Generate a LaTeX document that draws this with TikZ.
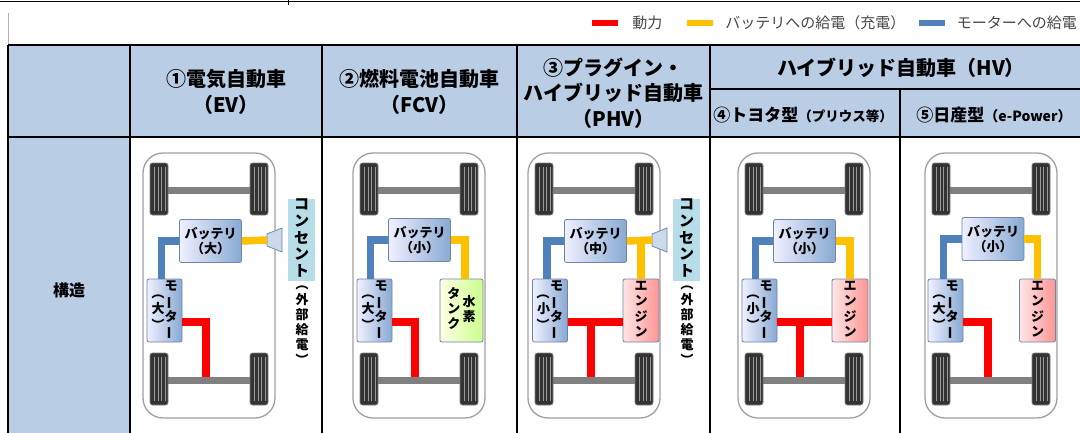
\documentclass[tikz,border=0pt]{standalone}
\usepackage{fontspec}
\setmainfont{Noto Sans CJK JP}
\usepackage{graphicx}
\usetikzlibrary{positioning, calc}
\definecolor{hdrblue}{RGB}{185,205,229}
\definecolor{pwrred}{RGB}{255,0,0}
\definecolor{chgyellow}{RGB}{255,192,0}
\definecolor{motblue}{RGB}{79,129,189}
\definecolor{axlegray}{RGB}{128,128,128}
\definecolor{bodygray}{RGB}{160,160,160}
\definecolor{boxedge}{RGB}{112,132,168}
\definecolor{outletteal}{RGB}{183,222,232}
\definecolor{legendgray}{RGB}{70,70,70}
% vertical (tategaki) stacks
\newcommand{\tate}[1]{\begin{tabular}{@{}c@{}}#1\end{tabular}}
\newcommand{\vchoon}{\rotatebox[origin=c]{90}{ー}}
\newcommand{\vlp}{\rotatebox[origin=c]{-90}{（}}
\newcommand{\vrp}{\rotatebox[origin=c]{-90}{）}}
\tikzset{
    gridline/.style={line width=1.6pt, black},
    hdr/.style={align=center, inner sep=0pt, font=\bfseries\fontsize{20}{25.5}\selectfont},
    subhdr/.style={inner sep=0pt, font=\bfseries\fontsize{17}{20}\selectfont},
    legbar/.style={rectangle, minimum width=26pt, minimum height=6pt, inner sep=0pt},
    legtxt/.style={inner sep=0pt, text=legendgray, font=\fontsize{15}{18}\selectfont},
    bluebox/.style={rectangle, rounded corners=2pt, draw=boxedge, line width=0.8pt, left color=blue!6, right color=motblue!68, inner sep=0pt, align=center, font=\bfseries\fontsize{13}{15}\selectfont},
    battbox/.style={bluebox, minimum width=62pt, minimum height=43pt},
    motorbox/.style={bluebox, minimum width=35pt, minimum height=63pt},
    enginebox/.style={bluebox, minimum width=36pt, minimum height=63pt, left color=red!10, right color=red!42},
    tankbox/.style={bluebox, minimum width=43pt, minimum height=63pt, left color=green!6!yellow!10, right color=green!45!yellow!45},
    outlet/.style={rectangle, fill=outletteal, minimum width=27pt, minimum height=80pt, inner sep=0pt, font=\bfseries\fontsize{15}{16}\selectfont},
    extnote/.style={inner sep=0pt, font=\bfseries\fontsize{13}{13.5}\selectfont},
    plugshape/.style={draw=boxedge, line width=0.8pt, fill=motblue!30},
    power/.style={line width=7.5pt, pwrred},
    charge/.style={line width=7.5pt, chgyellow},
    feed/.style={line width=7.5pt, motblue},
    axle/.style={line width=7pt, axlegray},
    chassis/.pic={
        \draw[bodygray, line width=1.3pt, rounded corners=20pt, fill=white] (0,153) rectangle (132,418);
        \foreach \ay in {190,380} \draw[axle] (24,\ay) -- (107,\ay);
        \foreach \wx in {7,107} \foreach \wy in {163,353} {
            \draw[rounded corners=2.5pt, fill=black!80, draw=black!50, line width=0.8pt] (\wx,\wy) rectangle ++(18,52);
            \foreach \t in {4.5,8,11.5,15} \draw[black!40, line width=1pt] (\wx+\t,\wy+4) -- ++(0,44);
        }
    },
}
\begin{document}
\begin{tikzpicture}[x=1pt, y=-1pt]
\useasboundingbox (0,0) rectangle (1080,432);
\clip (0,0) rectangle (1080,432);
\fill[white] (0,0) rectangle (1080,432);
\draw[black, line width=1.3pt] (0,1.5) -- (1080,1.5);
\draw[black, line width=1pt] (288,0) -- (288,5);
\draw[black!30, line width=0.6pt] (8,13) -- (8,45);

% legend
\node[legbar, fill=pwrred] (kPow) at (605,23) {};
\node[legtxt, right=14pt of kPow] (tPow) {動力};
\node[legbar, fill=chgyellow] (kChg) at (700,23) {};
\node[legtxt, right=12pt of kChg] (tChg) {バッテリへの給電（充電）};
\node[legbar, fill=motblue] (kMot) at (931.5,23) {};
\node[legtxt, right=12pt of kMot] (tMot) {モーターへの給電};

% table
\fill[hdrblue] (8,45) rectangle (1100,137);
\fill[hdrblue] (8,137) rectangle (130,440);
\draw[gridline] (8,45) -- (1100,45);
\draw[gridline] (8,137) -- (1100,137);
\draw[gridline] (710,89) -- (1100,89);
\foreach \cx in {8,130,322,517,710} \draw[gridline] (\cx,45) -- (\cx,440);
\draw[gridline] (900,89) -- (900,440);

\node[hdr] (hEV) at (226,92) {①電気自動車\\（EV）};
\node[hdr] (hFCV) at (419.5,92) {②燃料電池自動車\\（FCV）};
\node[hdr] (hPHV) at (613.5,93) {③プラグイン・\\ハイブリッド自動車\\（PHV）};
\node[hdr] (hHV) at (901,68) {ハイブリッド自動車（HV）};
\node[subhdr] (hTY) at (803,115) {④トヨタ型{\fontsize{13.5}{15}\selectfont（プリウス等）}};
\node[subhdr] (hNS) at (994,115) {⑤日産型{\fontsize{14}{15}\selectfont（e-Power）}};
\node[font=\bfseries\fontsize{16}{18}\selectfont] (rStruct) at (69,290) {構造};

% 1: EV
\begin{scope}[shift={(143,0)}]
    \pic {chassis};
    \coordinate (ax1) at (63,376.5);
    \coordinate (plg1) at (124,240);
    \node[battbox] (bat1) at (67.5,241) {バッテリ\\（大）};
    \node[motorbox] (mot1) at (21.5,310.5) {\tate{\vlp\\大\\\vrp}\tate{モ\\\vchoon\\タ\\\vchoon}};
    \node[outlet] (out1) at (158.5,240) {\tate{コ\\ン\\セ\\ン\\ト}};
    \node[extnote] (ext1) at (159,323) {\tate{\vlp\\外\\部\\給\\電\\\vrp}};
    \draw[plugshape] (124,234) -- (139,228) -- (139,252) -- (124,246) -- cycle;
    \draw[feed] (bat1.west) -| ([xshift=-3pt]mot1.north);
    \draw[charge] (bat1.east) -- (plg1);
    \draw[power] ([yshift=-11.5pt]mot1.east) -| (ax1);
\end{scope}

% 2: FCV
\begin{scope}[shift={(353,0)}]
    \pic {chassis};
    \coordinate (ax2) at (62,376.5);
    \node[battbox] (bat2) at (66.5,240) {バッテリ\\（小）};
    \node[motorbox] (mot2) at (21.5,310.5) {\tate{\vlp\\大\\\vrp}\tate{モ\\\vchoon\\タ\\\vchoon}};
    \node[tankbox] (tnk2) at (108.5,310.5) {\tate{タ\\ン\\ク}\,\tate{水\\素}};
    \draw[feed] (bat2.west) -| ([xshift=-4pt]mot2.north);
    \draw[charge] (bat2.east) -| ([xshift=3.5pt]tnk2.north);
    \draw[power] ([yshift=-11.5pt]mot2.east) -| (ax2);
\end{scope}

% 3: PHV
\begin{scope}[shift={(528,0)}]
    \pic {chassis};
    \coordinate (ax3) at (63,376.5);
    \coordinate (j3) at (63,322);
    \coordinate (plg3) at (124,240);
    \node[battbox] (bat3) at (67.5,241) {バッテリ\\（中）};
    \node[motorbox] (mot3) at (22,310.5) {\tate{\vlp\\小\\\vrp}\tate{モ\\\vchoon\\タ\\\vchoon}};
    \node[enginebox] (eng3) at (113,310.5) {\tate{エ\\ン\\ジ\\ン}};
    \node[outlet] (out3) at (158.5,240) {\tate{コ\\ン\\セ\\ン\\ト}};
    \node[extnote] (ext3) at (159,323) {\tate{\vlp\\外\\部\\給\\電\\\vrp}};
    \draw[plugshape] (124,234) -- (139,228) -- (139,252) -- (124,246) -- cycle;
    \draw[feed] (bat3.west) -| ([xshift=-3pt]mot3.north);
    \draw[charge] (bat3.east) -- (plg3);
    \draw[charge] (bat3.east -| eng3.north) -- (eng3.north);
    \draw[power] ([yshift=-11.5pt]mot3.east) -- ([yshift=-11.5pt]eng3.west);
    \draw[power] (j3) -- (ax3);
\end{scope}

% 4: HV (Toyota)
\begin{scope}[shift={(738,0)}]
    \pic {chassis};
    \coordinate (ax4) at (62,376.5);
    \coordinate (j4) at (62,322);
    \node[battbox] (bat4) at (66.5,241) {バッテリ\\（小）};
    \node[motorbox] (mot4) at (21.5,310.5) {\tate{\vlp\\小\\\vrp}\tate{モ\\\vchoon\\タ\\\vchoon}};
    \node[enginebox] (eng4) at (112,310.5) {\tate{エ\\ン\\ジ\\ン}};
    \draw[feed] (bat4.west) -| ([xshift=-4pt]mot4.north);
    \draw[charge] (bat4.east) -| (eng4.north);
    \draw[power] ([yshift=-11.5pt]mot4.east) -- ([yshift=-11.5pt]eng4.west);
    \draw[power] (j4) -- (ax4);
\end{scope}

% 5: HV (Nissan)
\begin{scope}[shift={(925,0)}]
    \pic {chassis};
    \coordinate (ax5) at (63,376.5);
    \node[battbox] (bat5) at (68,239) {バッテリ\\（小）};
    \node[motorbox] (mot5) at (20.5,310.5) {\tate{\vlp\\大\\\vrp}\tate{モ\\\vchoon\\タ\\\vchoon}};
    \node[enginebox] (eng5) at (112.5,310.5) {\tate{エ\\ン\\ジ\\ン}};
    \draw[feed] (bat5.west) -| ([xshift=-2pt]mot5.north);
    \draw[charge] (bat5.east) -| (eng5.north);
    \draw[power] ([yshift=-11.5pt]mot5.east) -| (ax5);
\end{scope}
\end{tikzpicture}
\end{document}
